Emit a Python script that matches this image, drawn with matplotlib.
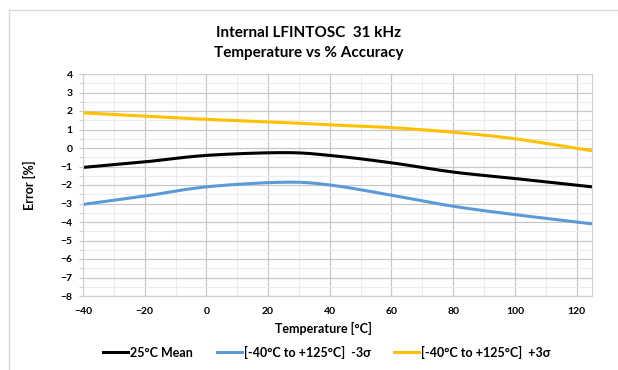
import numpy as np
import matplotlib.pyplot as plt
from matplotlib.lines import Line2D

plt.rcParams['font.family'] = ['Lato', 'DejaVu Sans']

# data
temps = [-40, -20, 0, 25, 40, 60, 80, 100, 125]
mean_25c = [-1.05, -0.75, -0.4, -0.25, -0.4, -0.8, -1.3, -1.65, -2.1]
minus_3s = [-3.05, -2.6, -2.1, -1.85, -2.0, -2.55, -3.15, -3.6, -4.1]
plus_3s = [1.9, 1.72, 1.55, 1.38, 1.25, 1.1, 0.85, 0.5, -0.15]

labels = ['25°C Mean', '[-40°C to +125°C]  -3σ', '[-40°C to +125°C]  +3σ']
colors = ['#000000', '#5b9bd5', '#ffc000']

W, H = 618, 370


def smooth(x, y, n=20):
    # catmull-rom, similar to excel "smoothed line"
    x = np.asarray(x, float)
    y = np.asarray(y, float)
    px = np.concatenate([[2 * x[0] - x[1]], x, [2 * x[-1] - x[-2]]])
    py = np.concatenate([[2 * y[0] - y[1]], y, [2 * y[-1] - y[-2]]])
    xs, ys = [], []
    t = np.linspace(0, 1, n, endpoint=False)
    for i in range(1, len(px) - 2):
        for p, out in ((px, xs), (py, ys)):
            p0, p1, p2, p3 = p[i - 1], p[i], p[i + 1], p[i + 2]
            out.extend(0.5 * (2 * p1 + (-p0 + p2) * t + (2 * p0 - 5 * p1 + 4 * p2 - p3) * t ** 2
                              + (-p0 + 3 * p1 - 3 * p2 + p3) * t ** 3))
    xs.append(x[-1])
    ys.append(y[-1])
    return xs, ys


fig = plt.figure(figsize=(W / 100, H / 100), dpi=100)
# chart area border (only left and top edges are inside the image)
fig.add_artist(Line2D([8.5 / W, 8.5 / W], [0, 1 - 9.5 / H], transform=fig.transFigure,
                      color='#d9d9d9', linewidth=1))
fig.add_artist(Line2D([8.5 / W, 1], [1 - 9.5 / H, 1 - 9.5 / H], transform=fig.transFigure,
                      color='#d9d9d9', linewidth=1))

ax = fig.add_axes([83 / W, 1 - 296 / H, 509 / W, 222 / H])

for series, c, lab in zip([mean_25c, minus_3s, plus_3s], colors, labels):
    sx, sy = smooth(temps, series)
    ax.plot(sx, sy, color=c, linewidth=2.2, label=lab, solid_capstyle='butt')

ax.set_xlim(-40, 125)
ax.set_ylim(-8, 4)
ax.set_xticks(np.arange(-40, 121, 20))
ax.set_yticks(np.arange(-8, 5, 1))
ax.set_xticks(np.arange(-40, 125, 10), minor=True)
ax.set_yticks(np.arange(-8, 4, 0.5), minor=True)
ax.grid(which='major', color='#c8c8c8', linewidth=0.9)
ax.grid(which='minor', color='#ececec', linewidth=0.8)
ax.set_axisbelow(True)
for s in ax.spines.values():
    s.set_color('#d0d0d0')
ax.tick_params(axis='x', which='both', length=0, labelsize=7.5, pad=8)
ax.tick_params(axis='y', which='both', length=3, color='#c8c8c8', labelsize=7.5, pad=4.5)
for lbl in ax.get_xticklabels() + ax.get_yticklabels():
    lbl.set_fontweight('bold')

fig.text(0.5 + 14 / W, 1 - 328 / H, 'Temperature [°C]', ha='center', va='center',
         fontsize=9, fontweight='bold')
fig.text(29 / W, 1 - 185 / H, 'Error [%]', ha='center', va='center', rotation=90,
         fontsize=9, fontweight='bold')
fig.text(0.5, 1 - 33 / H, 'Internal LFINTOSC  31 kHz', ha='center', va='center',
         fontsize=11, fontweight='bold')
fig.text(0.5, 1 - 53 / H, 'Temperature vs % Accuracy', ha='center', va='center',
         fontsize=11, fontweight='bold')

handles = [Line2D([0], [0], color=c, linewidth=2.2) for c in colors]
fig.legend(handles, labels, loc='center', bbox_to_anchor=(0.5 + 18 / W, 1 - 352 / H), ncol=3,
           frameon=False, prop={'weight': 'bold', 'size': 9},
           handlelength=2.0, handletextpad=0.15, columnspacing=1.9)

fig.savefig('out.png', dpi=100)
